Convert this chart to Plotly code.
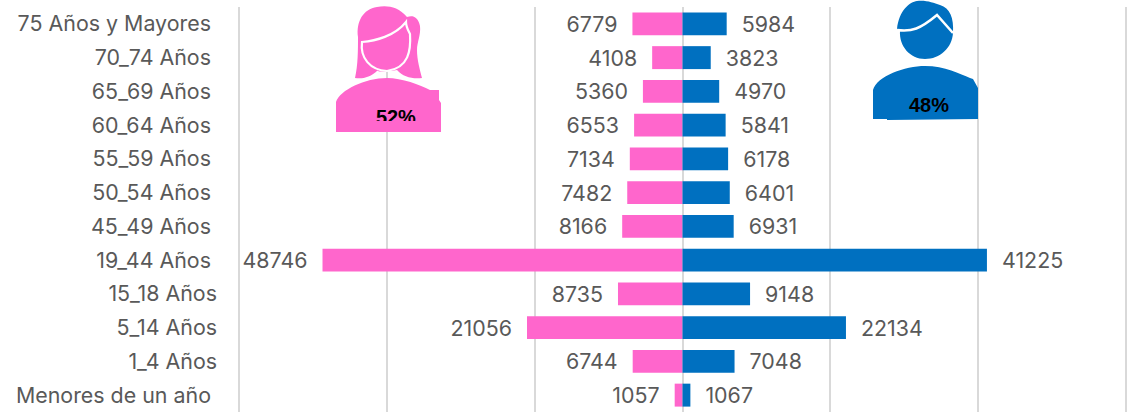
import plotly.graph_objects as go

W, H = 1127, 419
L, R, T, B = 237, 0, 7, 7

categories = ["75 Años y Mayores", "70_74 Años", "65_69 Años", "60_64 Años", "55_59 Años",
              "50_54 Años", "45_49 Años", "19_44 Años", "15_18 Años", "5_14 Años", "1_4 Años",
              "Menores de un año"]
tick_pad = [1, 1, 1, 1, 1, 1, 1, 1, 0, 0, 0, 1]
mujeres = [6779, 4108, 5360, 6553, 7134, 7482, 8166, 48746, 8735, 21056, 6744, 1057]
hombres = [5984, 3823, 4970, 5841, 6178, 6401, 6931, 41225, 9148, 22134, 7048, 1067]
tick_vals = [-60000, -40000, -20000, 0, 20000, 40000, 60000]
x_range = [-60325, 60190]

FONT = "Inter"
TXT = "#595959"
PINK = "#FF66CC"
BLUE = "#0070C0"
NB = "\u00a0"
labels = [c + NB * p for c, p in zip(categories, tick_pad)]


def px(x):
    return (x - L) / (W - L - R)


def py(y):
    return 1 - (y - T) / (H - T - B)


def path(points, close=True):
    s = ""
    for i, seg in enumerate(points):
        if i == 0:
            s += f"M{px(seg[0]):.5f},{py(seg[1]):.5f}"
        elif len(seg) == 2:
            s += f" L{px(seg[0]):.5f},{py(seg[1]):.5f}"
        else:
            s += (f" C{px(seg[0]):.5f},{py(seg[1]):.5f} {px(seg[2]):.5f},{py(seg[3]):.5f}"
                  f" {px(seg[4]):.5f},{py(seg[5]):.5f}")
    return s + (" Z" if close else "")


def shape(points, fill=None, line=None, width=0, close=True):
    return dict(type="path", xref="paper", yref="paper", layer="above", path=path(points, close),
                fillcolor=fill if fill else "rgba(0,0,0,0)",
                line=dict(color=line if line else "rgba(0,0,0,0)", width=width))


hair = [(355, 78), (358, 65, 358, 50, 358, 37), (356, 22, 363, 9, 377, 7), (386, 5, 398, 6, 407, 17),
        (412, 15, 418, 16, 420, 26), (421, 35, 417, 42, 417, 50), (417, 60, 420, 70, 422, 78),
        (412, 79, 403, 77, 397, 70), (385, 72, 375, 72, 378, 70), (370, 78, 362, 79, 355, 78)]
face = [(362, 42), (375, 41, 395, 36, 406, 22), (406, 27, 408, 30, 410, 34), (411, 50, 409, 68, 387, 71),
        (370, 70, 360, 58, 362, 42)]
f_body = [(336, 102), (340, 90, 365, 78, 387, 78), (402, 78, 420, 85, 430, 90), (439, 90), (439, 100),
          (441, 103), (441, 132), (336, 132)]
m_head = [(897, 29), (899, 10, 910, 2, 917, 1), (927, 0, 933, 3, 940, 5), (950, 8, 954, 18, 953, 33),
          (952, 48, 940, 59, 925, 59), (910, 59, 899, 46, 900, 31)]
m_line = [(897, 30), (912, 32, 920, 29, 937, 15), (953, 33)]
m_body = [(873, 90), (877, 76, 905, 66, 925, 66), (945, 66, 960, 74, 970, 78), (973, 79), (978, 88),
          (978, 119), (887, 120), (887, 119), (873, 119)]

shapes = [
    shape(hair, fill=PINK),
    shape(face, fill=PINK, line="#FFFFFF", width=2.2),
    shape(f_body, fill=PINK),
    shape(m_head, fill=BLUE),
    shape(m_line, line="#FFFFFF", width=2.5, close=False),
    shape(m_body, fill=BLUE),
]

fig = go.Figure()
pad = NB * 2
fig.add_bar(y=labels, x=[-v for v in mujeres], orientation="h", name="Mujeres",
            marker=dict(color=PINK, line_width=0), text=[f"{v}{pad}" for v in mujeres],
            textposition="outside", constraintext="none", cliponaxis=False)
fig.add_bar(y=labels, x=hombres, orientation="h", name="Hombres",
            marker=dict(color=BLUE, line_width=0), text=[f"{pad}{v}" for v in hombres],
            textposition="outside", constraintext="none", cliponaxis=False)

annotations = [
    dict(text="<b>52%</b>", xref="paper", yref="paper", x=px(395.5), y=py(104), xanchor="center",
         yanchor="top", height=15, width=60, valign="top", showarrow=False,
         font=dict(family="Liberation Sans", size=20, color="#000000")),
    dict(text="<b>48%</b>", xref="paper", yref="paper", x=px(929), y=py(105), xanchor="center",
         yanchor="middle", showarrow=False, font=dict(family="Liberation Sans", size=20, color="#000000")),
]

fig.update_layout(
    width=W, height=H, margin=dict(l=L, r=R, t=T, b=B, pad=0), autosize=False,
    barmode="overlay", bargap=0.32, showlegend=False,
    paper_bgcolor="#FFFFFF", plot_bgcolor="#FFFFFF",
    font=dict(family=FONT, size=21.4, color=TXT),
    shapes=shapes, annotations=annotations,
    xaxis=dict(range=x_range, tickvals=tick_vals, showticklabels=False,
               showgrid=True, gridcolor="#D9D9D9", gridwidth=2, zeroline=True,
               zerolinecolor="#D9D9D9", zerolinewidth=2, showline=False, ticks=""),
    yaxis=dict(categoryorder="array", categoryarray=labels, autorange="reversed", showline=False,
               ticks="", showgrid=False, ticklabelstandoff=19,
               tickfont=dict(family=FONT, size=21.4, color=TXT)),
)
fig.write_html("out.html", post_script="document.body.style.margin='0';",
               config=dict(displayModeBar=False))
